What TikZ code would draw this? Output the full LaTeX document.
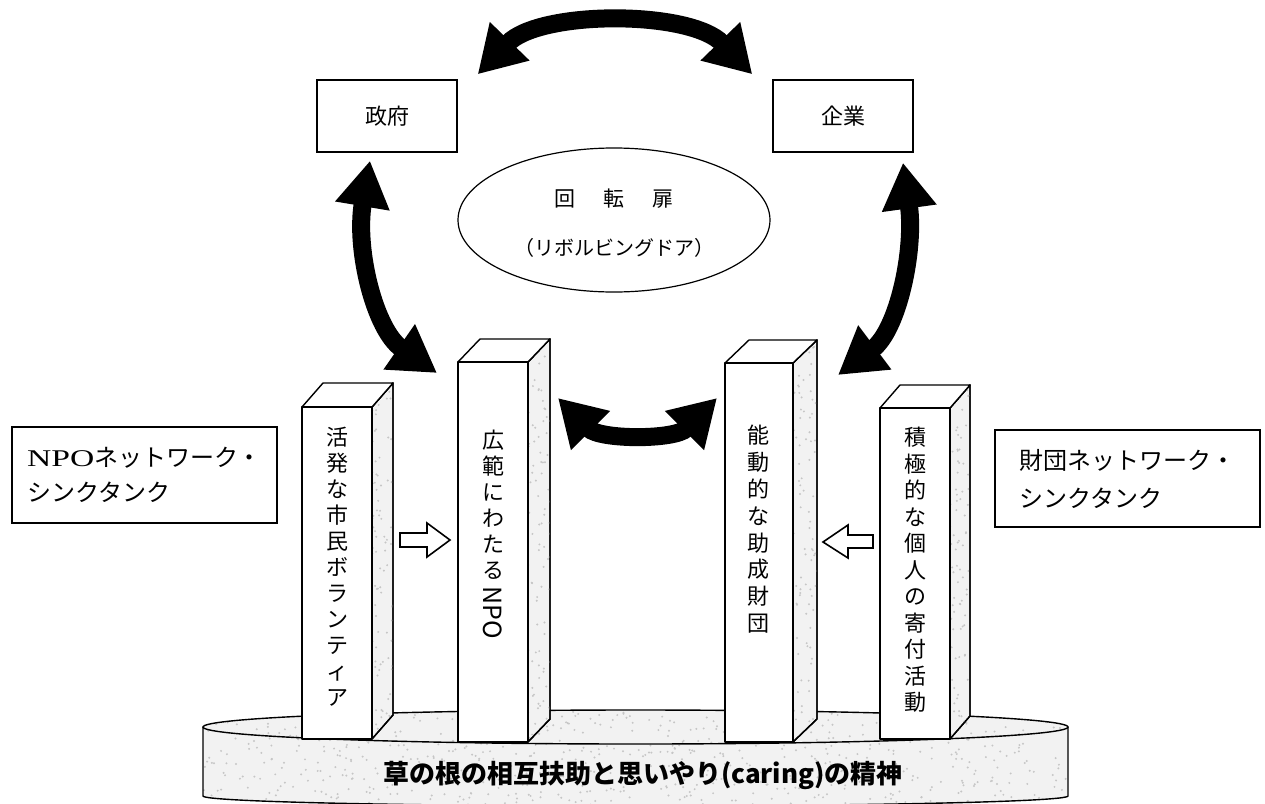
\documentclass[tikz,border=0pt]{standalone}
\usepackage{fontspec}
\usepackage{graphicx}
\setmainfont{Liberation Serif}
\newfontfamily\cjk{Noto Sans CJK JP}
\usetikzlibrary{arrows.meta,shapes.geometric,calc}
\newcommand{\drawpillar}[6]{%
  \filldraw[sideface] (#3,#2) -- ++(#5,#6) -- ({#3+#5},{#4+#6}) -- (#3,#4) -- cycle;
  \begin{scope}
    \clip (#3,#2) -- ++(#5,#6) -- ({#3+#5},{#4+#6}) -- (#3,#4) -- cycle;
    \foreach \k in {1,...,90} {\fill[speck] ({#3+(#5)*rnd},{#2-30+(#4-#2+30)*rnd}) circle[radius=1.1];}
  \end{scope}
  \draw[line width=0.7pt, line join=round] (#3,#2) -- ++(#5,#6) -- ({#3+#5},{#4+#6}) -- (#3,#4);
  \filldraw[face] (#1,#2) -- ++(#5,#6) -- ({#3+#5},{#2+#6}) -- (#3,#2) -- cycle;
  \filldraw[face] (#1,#2) rectangle (#3,#4);
}
\begin{document}
\begin{tikzpicture}[x=0.5pt,y=-0.5pt,
  box/.style={draw, line width=0.7pt, inner sep=0pt},
  bigarrow/.style={line width=9pt, {Triangle[length=23pt,width=26pt]}-{Triangle[length=23pt,width=26pt]}},
  face/.style={draw, line width=0.7pt, fill=white, line join=round},
  sideface/.style={draw, line width=0.7pt, fill=gray!10, line join=round},
  speck/.style={gray!45},
  hollow/.style={draw, line width=0.8pt, fill=white, line join=miter},
  vtext/.style={align=center, inner sep=0pt, anchor=north},
]
\pgfmathsetseed{7}
\useasboundingbox (0,0) rectangle (1265,804);
\fill[white] (0,0) rectangle (1265,804);

% base
\fill[gray!10] (203,727) -- (203,796) arc[start angle=180,end angle=0,x radius=432.5,y radius=10]
  -- (1068,727) arc[start angle=0,end angle=-180,x radius=432.5,y radius=17] -- cycle;
\begin{scope}
  \clip (203,727) -- (203,796) arc[start angle=180,end angle=0,x radius=432.5,y radius=10]
    -- (1068,727) arc[start angle=0,end angle=-180,x radius=432.5,y radius=17] -- cycle;
  \foreach \k in {1,...,700} {\fill[speck] ({203+865*rnd},{708+100*rnd}) circle[radius=1.1];}
\end{scope}
\draw[line width=0.7pt] (203,727) -- (203,796) arc[start angle=180,end angle=0,x radius=432.5,y radius=10] -- (1068,727);
\draw[line width=0.7pt] (635.5,727) ellipse[x radius=432.5,y radius=17];
\node[font=\cjk\bfseries\fontsize{13}{15}\selectfont, inner sep=0pt] (base) at (643,775) {草の根の相互扶助と思いやり(caring)の精神};

% pillars
\drawpillar{302}{407}{372}{739}{21}{-24}
\drawpillar{458}{362}{528}{742}{22}{-23}
\drawpillar{725}{363}{793}{742}{24}{-23}
\drawpillar{880}{408}{950}{739}{20}{-23}

\node[vtext, font=\cjk\fontsize{11}{13}\selectfont] (p1) at (337,427)
  {活\\発\\な\\市\\民\\ボ\\ラ\\ン\\テ\\ィ\\ア};
\node[vtext, font=\cjk\fontsize{11}{13}\selectfont] (p2) at (493,430)
  {広\\範\\に\\わ\\た\\る\\[-9pt]{\fontsize{12.5}{13}\selectfont\rotatebox{-90}{NPO}}};
\node[vtext, font=\cjk\fontsize{11}{13.4}\selectfont] (p3) at (758,425)
  {能\\動\\的\\な\\助\\成\\財\\団};
\node[vtext, font=\cjk\fontsize{11}{13.25}\selectfont] (p4) at (915,427)
  {積\\極\\的\\な\\個\\人\\の\\寄\\付\\活\\動};

% hollow arrows
\filldraw[hollow] (400,533) -- (427,533) -- (427,523) -- (450,540) -- (427,557) -- (427,547) -- (400,547) -- cycle;
\filldraw[hollow] (873,535) -- (848,535) -- (848,525) -- (823,542) -- (848,558) -- (848,548) -- (873,548) -- cycle;

% top boxes
\node[box, minimum width=70pt, minimum height=36pt, font=\cjk\fontsize{11}{13}\selectfont] (gov) at (387,116) {政府};
\node[box, minimum width=70pt, minimum height=36pt, font=\cjk\fontsize{11}{13}\selectfont] (biz) at (843,116) {企業};

% revolving door
\node[ellipse, draw, line width=0.6pt, minimum width=156pt, minimum height=72pt, inner sep=0pt] (door) at (614,220) {};
\node[font=\cjk\fontsize{10.5}{12}\selectfont, inner sep=0pt] (doorA) at ($(door.center)+(0,-21)$) {回\hspace{14pt}転\hspace{14pt}扉};
\node[font=\cjk\fontsize{10}{12}\selectfont, inner sep=0pt] (doorB) at ($(door.center)+(0,28)$) {（リボルビングドア）};

% side boxes
\node[box, minimum width=132.5pt, minimum height=48pt, align=left, font=\cjk\fontsize{12}{17.5}\selectfont] (npo) at (144.5,475)
  {\scalebox{1.4}[1]{\rmfamily NPO}ネットワーク・\\シンクタンク};
\node[box, minimum width=132.5pt, minimum height=48.5pt, align=left, font=\cjk\fontsize{12}{19}\selectfont] (fnd) at (1127.5,478.5)
  {財団ネットワーク・\\シンクタンク};

% big arrows
\coordinate (topL) at ($(gov.north east)+(20,-5)$);
\coordinate (topR) at ($(biz.north west)+(-20,-5)$);
\coordinate (govS) at ($(gov.south)+(-17,8)$);
\coordinate (bizS) at ($(biz.south)+(60,10)$);
\coordinate (npoTL) at (437,373);
\coordinate (fndTR) at (838,375);
\coordinate (midL) at (558,398);
\coordinate (midR) at (717,398);
\draw[bigarrow] (topL) .. controls (540,10) and (690,10) .. (topR);
\draw[bigarrow] (govS) .. controls (355,250) and (375,330) .. (npoTL);
\draw[bigarrow] (bizS) .. controls (915,250) and (898,330) .. (fndTR);
\draw[bigarrow] (midL) .. controls (600,440) and (675,440) .. (midR);
\end{tikzpicture}
\end{document}
